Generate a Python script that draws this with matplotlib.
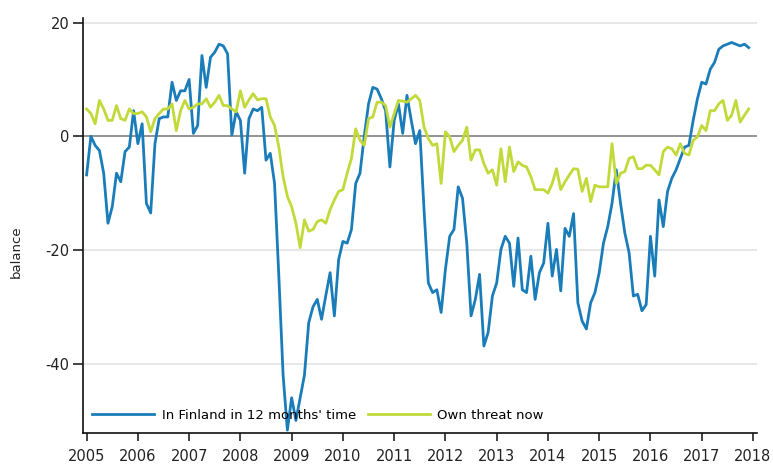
"""
Consumer confidence balances: Finland's economy in 12 months' time vs
own threat of unemployment now, monthly 2005-2017.
"""

import numpy as np
import matplotlib
matplotlib.use("Agg")
import matplotlib.pyplot as plt

# Monthly series, Jan 2005 .. Dec 2017 (balance figures)
START_YEAR = 2005

finland_12m = [
    -6.8, 0.0, -1.6, -2.5, -6.5, -15.3, -12.4, -6.5, -8.0, -2.7, -1.9, 4.5,
    -1.3, 2.2, -11.8, -13.5, -1.3, 3.1, 3.4, 3.4, 9.5, 6.3, 8.0, 8.0,
    10.0, 0.5, 1.9, 14.2, 8.6, 13.9, 14.8, 16.2, 15.9, 14.5, 0.2, 4.3,
    2.8, -6.5, 3.1, 4.8, 4.5, 5.1, -4.2, -3.0, -8.3, -24.6, -42.0, -51.7,
    -46.0, -50.0, -46.0, -42.0, -32.8, -30.0, -28.7, -32.2, -28.0, -24.0, -31.6, -21.7,
    -18.5, -18.8, -16.4, -8.3, -6.5, 0.0, 5.7, 8.6, 8.3, 6.6, 4.5, -5.4,
    2.8, 5.7, 0.5, 7.2, 2.8, -1.3, 1.0, -13.0, -25.8, -27.5, -27.0, -31.0,
    -23.4, -17.6, -16.4, -8.9, -10.9, -18.8, -31.6, -28.7, -24.3, -36.9, -34.5, -28.1,
    -25.8, -19.9, -17.6, -18.8, -26.4, -17.9, -27.0, -27.5, -21.1, -28.7, -24.0, -22.3,
    -15.3, -24.6, -19.9, -27.2, -16.2, -17.6, -13.6, -29.3, -32.5, -33.9, -29.3, -27.5,
    -24.0, -18.8, -15.9, -11.8, -5.9, -11.8, -17.0, -20.5, -28.1, -27.8, -30.7, -29.6,
    -17.6, -24.6, -11.2, -15.9, -9.7, -7.4, -5.9, -3.9, -1.9, -1.6, 2.8, 6.6,
    9.5, 9.2, 11.8, 13.0, 15.3, 15.9, 16.2, 16.5, 16.2, 15.9, 16.2, 15.6,
]

own_threat_now = [
    4.8, 4.0, 2.2, 6.3, 4.8, 2.8, 2.8, 5.4, 3.1, 2.8, 4.8, 4.0,
    4.0, 4.3, 3.4, 0.8, 3.1, 4.0, 4.8, 4.8, 5.7, 1.0, 4.5, 6.3,
    4.8, 5.1, 5.7, 5.7, 6.6, 5.1, 6.0, 7.2, 5.4, 5.4, 4.8, 4.3,
    8.0, 5.1, 6.4, 7.5, 6.4, 6.6, 6.6, 3.4, 1.9, -1.9, -7.1, -10.6,
    -12.4, -15.3, -19.6, -14.7, -16.7, -16.4, -15.0, -14.7, -15.3, -12.9, -11.2, -9.7,
    -9.4, -6.5, -3.9, 1.3, -0.7, -1.6, 3.1, 3.4, 6.0, 6.0, 5.4, 1.6,
    4.0, 6.3, 6.2, 6.0, 6.6, 7.2, 6.3, 1.6, -0.4, -1.6, -1.3, -8.3,
    0.8, -0.1, -2.7, -1.6, -0.7, 1.6, -4.2, -2.4, -2.4, -4.8, -6.5, -5.9,
    -8.6, -2.2, -8.0, -1.9, -6.2, -4.5, -5.1, -5.4, -7.1, -9.4, -9.4, -9.4,
    -10.0, -8.3, -5.7, -9.4, -8.0, -6.8, -5.7, -5.8, -9.7, -7.4, -11.5, -8.6,
    -8.9, -8.9, -8.9, -1.3, -8.3, -6.5, -6.2, -3.9, -3.6, -5.7, -5.7, -5.1,
    -5.1, -5.9, -6.8, -2.7, -1.9, -2.2, -3.3, -1.3, -3.0, -3.3, -0.7, -0.1,
    1.9, 1.0, 4.5, 4.5, 5.7, 6.3, 2.8, 3.7, 6.3, 2.5, 3.7, 4.8,
]

series_labels = ["In Finland in 12 months' time", "Own threat now"]
year_ticks = list(range(2005, 2019))
y_ticks = [20, 0, -20, -40]
y_label = "balance"

BLUE = "#1a7db9"
GREEN = "#c2d93a"

# decimal year position of each monthly observation
x = START_YEAR + np.arange(len(finland_12m)) / 12.0

fig = plt.figure(figsize=(7.73, 4.71), dpi=100)
ax = fig.add_axes([0.1074, 0.0807, 0.872, 0.881])

ax.axhline(0, color="#8a8a8a", linewidth=1.3, zorder=1)
for yv in [20, -20, -40]:
    ax.axhline(yv, color="#e3e3e3", linewidth=1.2, zorder=0)

ax.plot(x, finland_12m, color=BLUE, linewidth=2.0, label=series_labels[0], zorder=3)
ax.plot(x, own_threat_now, color=GREEN, linewidth=2.0, label=series_labels[1], zorder=3)

ax.set_xlim(2004.93, 2018.08)
ax.set_ylim(-52.2, 20.8)

ax.set_xticks(year_ticks)
ax.set_xticklabels([str(y) for y in year_ticks])
ax.set_yticks(y_ticks)
ax.set_yticklabels([str(v) for v in y_ticks])
ax.tick_params(axis="x", direction="out", length=5.5, width=1.2, labelsize=10.5,
               pad=6, colors="#222222")
ax.tick_params(axis="y", direction="out", length=7, width=1.2, labelsize=10.5,
               pad=3, colors="#222222")

for side in ["top", "right"]:
    ax.spines[side].set_visible(False)
for side in ["left", "bottom"]:
    ax.spines[side].set_linewidth(1.2)
    ax.spines[side].set_color("#111111")

ax.set_ylabel(y_label, fontsize=9.5, color="#222222")
ax.yaxis.set_label_coords(-0.089, 0.436)

ax.legend(loc="center left", bbox_to_anchor=(0.014, 0.042), ncol=2,
          frameon=False, fontsize=9.5, handlelength=4.7, handletextpad=0.55,
          columnspacing=0.9, borderpad=0, borderaxespad=0)

fig.savefig("out.png", dpi=100)
